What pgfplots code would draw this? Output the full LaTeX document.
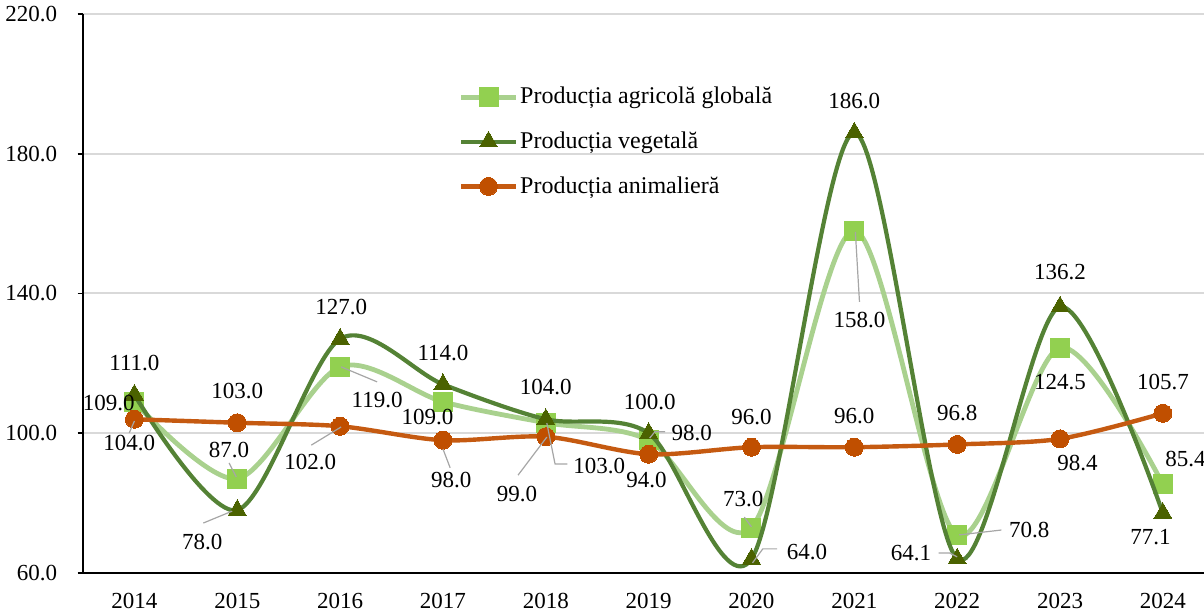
\documentclass[border=0pt]{standalone}
\usepackage{pgfplots}
\pgfplotsset{compat=1.18}
\usepackage{fontspec}
\setmainfont{Liberation Serif}
\usetikzlibrary{calc}

\definecolor{globline}{HTML}{A9D18E}
\definecolor{globmark}{HTML}{92D050}
\definecolor{vegline}{HTML}{548235}
\definecolor{vegmark}{HTML}{4B6200}
\definecolor{animline}{HTML}{C55A11}
\definecolor{animmark}{HTML}{C04F00}
\definecolor{gridgray}{HTML}{D9D9D9}
\definecolor{leader}{HTML}{A6A6A6}

\begin{document}
\begin{tikzpicture}[font=\fontsize{11.5}{13.8}\selectfont]
\begin{axis}[
    name=ax,
    scale only axis,
    width=560.5pt, height=279.5pt,
    xmin=-0.5, xmax=10.4,
    ymin=60, ymax=220,
    axis x line*=bottom, axis y line*=left,
    axis line style={black, line width=0.9pt},
    xtick={0,...,10},
    xticklabels={2014,2015,2016,2017,2018,2019,2020,2021,2022,2023,2024},
    x tick style={draw=none},
    xticklabel style={anchor=north, inner sep=0pt, yshift=-7pt},
    extra x ticks={-0.5,0.5,1.5,2.5,3.5,4.5,5.5,6.5,7.5,8.5,9.5},
    extra x tick labels={},
    extra x tick style={tick style={draw=black, line width=0.9pt}, major tick length=2.75pt},
    ytick={60,100,140,180,220},
    y tick style={black, line width=0.9pt},
    major tick length=2.75pt,
    tick align=outside,
    yticklabel style={anchor=east, inner sep=0pt, xshift=-10pt},
    /pgf/number format/.cd, fixed, fixed zerofill, precision=1, assume math mode=true,
    /pgfplots/.cd,
    ymajorgrids,
    grid style={gridgray, line width=1pt},
    clip mode=individual,
    legend style={at={(axis cs:3.15,199.7)}, anchor=north west, draw=none, fill=none,
        inner sep=0pt, row sep=10.5pt, font=\fontsize{12}{14.4}\selectfont,
        nodes={inner sep=1pt, anchor=west}},
    legend cell align=left,
    legend image code/.code={
        \draw[mark repeat=2, mark phase=2, #1] plot coordinates {(0cm,0cm) (0.48cm,0cm) (0.96cm,0cm)};
    },
]

% Productia agricola globala
\addplot[globline, line width=2.4pt, smooth, mark=square*, mark size=4.75pt,
    mark options={fill=globmark, draw=globmark, line width=0pt}] coordinates {
    (0,109.0) (1,87.0) (2,119.0) (3,109.0) (4,103.0) (5,98.0)
    (6,73.0) (7,158.0) (8,70.8) (9,124.5) (10,85.4)
};

% Productia vegetala
\addplot[vegline, line width=2.1pt, smooth, mark=triangle*, mark size=5.2pt,
    mark options={fill=vegmark, draw=vegmark, line width=0pt}] coordinates {
    (0,111.0) (1,78.0) (2,127.0) (3,114.0) (4,104.0) (5,100.0)
    (6,64.0) (7,186.0) (8,64.1) (9,136.2) (10,77.1)
};

% Productia animaliera
\addplot[animline, line width=2.2pt, smooth, mark=*, mark size=4.5pt,
    mark options={fill=animmark, draw=animmark, line width=0pt}] coordinates {
    (0,104.0) (1,103.0) (2,102.0) (3,98.0) (4,99.0) (5,94.0)
    (6,96.0) (7,96.0) (8,96.8) (9,98.4) (10,105.7)
};

\legend{Producția agricolă globală, Producția vegetală, Producția animalieră}

% leader lines
\begin{scope}[leader, line width=0.6pt]
\draw (axis cs:-0.05,100.1) -- (axis cs:0,103.5);
\draw (axis cs:0.92,91.5) -- (axis cs:0.99,87.5);
\draw (axis cs:0.67,74.3) -- (axis cs:0.95,77.7);
\draw (axis cs:2.36,114.7) -- (axis cs:2.01,119.0);
\draw (axis cs:1.72,96.6) -- (axis cs:2.01,101.8);
\draw (axis cs:3.0,95.5) -- (axis cs:3.07,90.1);
\draw (axis cs:3.73,88.0) -- (axis cs:4.01,98.9);
\draw (axis cs:4.01,102.9) -- (axis cs:4.09,91.2) -- (axis cs:4.21,91.2);
\draw (axis cs:5.01,98.6) -- (axis cs:5.06,100.4) -- (axis cs:5.16,100.4);
\draw (axis cs:5.93,76.0) -- (axis cs:6.0,73.2);
\draw (axis cs:6.01,62.9) -- (axis cs:6.11,66.9) -- (axis cs:6.25,66.9);
\draw (axis cs:7.01,157.6) -- (axis cs:7.05,137.6);
\draw (axis cs:7.82,65.7) -- (axis cs:7.93,65.7) -- (axis cs:8.0,64.6);
\draw (axis cs:8.02,70.9) -- (axis cs:8.43,72.3);
\end{scope}

% data labels
\node at (axis cs:0,120.1) {111.0};
\node at (axis cs:-0.25,108.7) {109.0};
\node at (axis cs:-0.05,97.2) {104.0};
\node at (axis cs:1.0,112.1) {103.0};
\node at (axis cs:0.92,95.2) {87.0};
\node at (axis cs:0.66,68.9) {78.0};
\node at (axis cs:2.01,136.1) {127.0};
\node at (axis cs:2.36,109.5) {119.0};
\node at (axis cs:1.71,91.8) {102.0};
\node at (axis cs:3.0,123.0) {114.0};
\node at (axis cs:2.85,104.6) {109.0};
\node at (axis cs:3.08,86.6) {98.0};
\node at (axis cs:4.0,113.2) {104.0};
\node at (axis cs:3.72,82.6) {99.0};
\node at (axis cs:4.52,90.6) {103.0};
\node at (axis cs:5.01,109.0) {100.0};
\node at (axis cs:5.42,100.1) {98.0};
\node at (axis cs:4.98,86.6) {94.0};
\node at (axis cs:6.0,104.6) {96.0};
\node at (axis cs:5.92,81.2) {73.0};
\node at (axis cs:6.54,66.0) {64.0};
\node at (axis cs:7.0,195.2) {186.0};
\node at (axis cs:7.05,132.4) {158.0};
\node at (axis cs:7.0,104.9) {96.0};
\node at (axis cs:8.0,105.8) {96.8};
\node at (axis cs:7.55,65.7) {64.1};
\node at (axis cs:8.70,72.3) {70.8};
\node at (axis cs:9.0,146.1) {136.2};
\node at (axis cs:9.0,114.7) {124.5};
\node at (axis cs:9.17,91.5) {98.4};
\node at (axis cs:10.0,114.7) {105.7};
\node at (axis cs:10.22,92.6) {85.4};
\node at (axis cs:9.88,70.3) {77.1};
\end{axis}
\pgfresetboundingbox
\path ($(ax.south west)+(-41.5pt,-20pt)$) rectangle ($(ax.north east)+(0pt,7pt)$);
\end{tikzpicture}
\end{document}
